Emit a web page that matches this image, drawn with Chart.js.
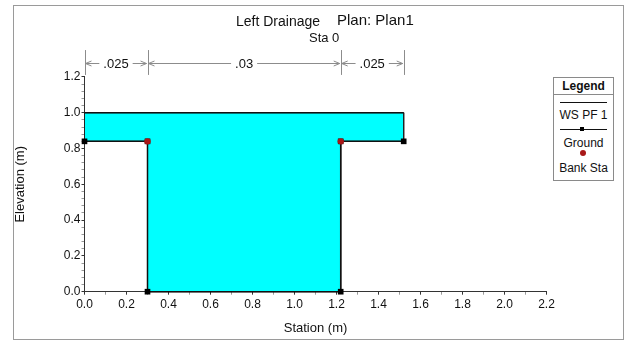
<!DOCTYPE html>
<html><head><meta charset="utf-8">
<script src="https://cdn.jsdelivr.net/npm/chart.js@4/dist/chart.umd.min.js"></script>
<style>
html,body{margin:0;padding:0;background:#fff;}
#wrap{position:relative;width:632px;height:343px;overflow:hidden;font-family:"Liberation Sans",Arial,sans-serif;color:#111;}
#frame{position:absolute;left:13px;top:5px;width:611px;height:335px;border:1px solid #9a9a9a;box-sizing:border-box;}
#c{position:absolute;left:0;top:0;}
.t{position:absolute;white-space:nowrap;line-height:16px;}
#legend{position:absolute;left:553px;top:77px;width:61px;height:104px;border:1px solid #8a8a8a;box-sizing:border-box;background:#fff;font-size:12px;}
#legend .row{position:absolute;left:0;width:100%;text-align:center;line-height:14px;white-space:nowrap;}
#legend .sep{position:absolute;left:0;width:100%;height:0;border-top:1px solid #8a8a8a;}
#legend .ln{position:absolute;left:6px;right:6px;height:0;border-top:1.5px solid #111;}
#legend .sq{position:absolute;width:4px;height:4px;background:#000;}
#legend .dot{position:absolute;width:6px;height:6px;border-radius:50%;}
</style></head>
<body>
<div id="wrap">
  <div id="frame"></div>
  <canvas id="c" width="632" height="343"></canvas>
  <span class="t" id="t1" style="left:236px;top:13px;font-size:14px;">Left Drainage</span>
  <span class="t" id="t2" style="left:337px;top:12px;font-size:15px;">Plan: Plan1</span>
  <span class="t" id="t3" style="left:309px;top:30px;font-size:13px;">Sta 0</span>
  <div id="legend"></div>
</div>
<script>
// ---- data ----
const groundStation = [0, 0.3, 0.3, 1.22, 1.22, 1.52];
const groundElev    = [0.84, 0.84, 0, 0, 0.84, 0.84];
const bankStation   = [0.3, 1.22];
const bankElev      = [0.84, 0.84];
const wsStation     = [0, 1.52];
const wsElev        = [1.0, 1.0];
const nBreaks       = [0, 0.3, 1.22, 1.52];
const nValues       = ['.025', '.03', '.025'];
const xTickLabels   = ['0.0','0.2','0.4','0.6','0.8','1.0','1.2','1.4','1.6','1.8','2.0','2.2'];
const yTickLabels   = ['0.0','0.2','0.4','0.6','0.8','1.0','1.2'];
const seriesNames   = ['WS PF 1', 'Ground', 'Bank Sta'];

// ---- derived structures ----
const pts = (xs, ys) => xs.map((v, i) => ({x: v, y: ys[i]}));
const groundPts = pts(groundStation, groundElev);
const wsPts = pts(wsStation, wsElev);
const waterPoly = wsPts.concat(groundPts.slice().reverse(), [wsPts[0]]);
const xMajor = xTickLabels.map(Number), yMajor = yTickLabels.map(Number);
function withMinor(major, n) {
  const out = [];
  for (let i = 0; i < major.length; i++) {
    out.push({value: major[i], major: true});
    if (i < major.length - 1) for (let k = 1; k < n; k++)
      out.push({value: major[i] + (major[i+1] - major[i]) * k / n, major: false});
  }
  return out;
}
const isMajor = (ticks, v) => ticks.some(t => Math.abs(t - v) < 1e-9);

const CYAN = '#00FFFF', BANK = '#A81818';

const nPlugin = {
  id: 'manningN',
  afterDraw(chart) {
    const {ctx, scales: {x, y}} = chart;
    const yT = y.getPixelForValue(1.35), yB = y.getPixelForValue(1.211), yA = Math.round(y.getPixelForValue(1.275)) + 0.5;
    ctx.save();
    ctx.strokeStyle = '#8c8c8c';
    ctx.lineWidth = 1;
    nBreaks.forEach(b => {
      const px = Math.round(x.getPixelForValue(b)) + 0.5;
      ctx.beginPath(); ctx.moveTo(px, yT); ctx.lineTo(px, yB); ctx.stroke();
    });
    ctx.font = '13px "Liberation Sans", Arial, sans-serif';
    ctx.textAlign = 'center'; ctx.textBaseline = 'middle';
    nValues.forEach((lab, i) => {
      const a = x.getPixelForValue(nBreaks[i]) + 1, b = x.getPixelForValue(nBreaks[i+1]) - 1;
      const c = (a + b) / 2, w = ctx.measureText(lab).width;
      ctx.strokeStyle = '#8c8c8c';
      ctx.beginPath();
      ctx.moveTo(a, yA); ctx.lineTo(c - w/2 - 4, yA);
      ctx.moveTo(c + w/2 + 4, yA); ctx.lineTo(b, yA);
      ctx.moveTo(a + 6, yA - 2.5); ctx.lineTo(a, yA); ctx.lineTo(a + 6, yA + 2.5);
      ctx.moveTo(b - 6, yA - 2.5); ctx.lineTo(b, yA); ctx.lineTo(b - 6, yA + 2.5);
      ctx.stroke();
      ctx.fillStyle = '#111';
      ctx.fillText(lab, c, yA + 1);
    });
    ctx.restore();
  }
};

const tickFont = {family: '"Liberation Sans", Arial, sans-serif', size: 12};
const chart = new Chart(document.getElementById('c'), {
  type: 'line',
  data: {
    datasets: [
      {label: seriesNames[2], data: pts(bankStation, bankElev), showLine: false,
       pointStyle: 'circle', pointRadius: 3.2, pointBackgroundColor: BANK, pointBorderColor: BANK, pointBorderWidth: 0, clip: false},
      {label: seriesNames[1], data: groundPts, borderColor: '#111', borderWidth: 1.5, tension: 0,
       pointStyle: 'rect', pointRadius: 4, pointBackgroundColor: '#000', pointBorderColor: '#000', pointBorderWidth: 0, clip: false, fill: false},
      {label: seriesNames[0], data: wsPts, borderColor: '#111', borderWidth: 1.5, tension: 0, pointRadius: 0, fill: false, clip: false},
      {label: 'water', data: waterPoly, borderColor: '#222', borderWidth: 1, tension: 0, pointRadius: 0,
       backgroundColor: CYAN, fill: 'shape', clip: false}
    ]
  },
  options: {
    responsive: false, animation: false,
    events: [],
    layout: {padding: {left: 0, right: 85.5, top: 76.9, bottom: 0}},
    plugins: {legend: {display: false}, title: {display: false}, tooltip: {enabled: false}},
    scales: {
      x: {
        type: 'linear', min: 0, max: 2.2,
        afterBuildTicks: s => { s.ticks = withMinor(xMajor, 2); },
        afterFit: s => { s.height = 343 - 291.7; },
        ticks: {autoSkip: false, maxRotation: 0, padding: 3, color: '#111', font: tickFont,
          callback: v => isMajor(xMajor, v) ? xTickLabels[xMajor.findIndex(t => Math.abs(t - v) < 1e-9)] : ''},
        grid: {drawOnChartArea: false, drawTicks: true, tickLength: 3,
          tickColor: c => (c.tick && isMajor(xMajor, c.tick.value)) ? '#333' : '#999'},
        border: {display: true, color: '#333', width: 1},
        title: {display: true, text: 'Station (m)', color: '#111', font: {family: tickFont.family, size: 13}, padding: {top: 0, bottom: 7}}
      },
      y: {
        type: 'linear', min: 0, max: 1.2,
        afterBuildTicks: s => { s.ticks = withMinor(yMajor, 5); },
        afterFit: s => { s.width = 84.5; },
        ticks: {autoSkip: false, padding: 1, color: '#111', font: tickFont,
          callback: v => isMajor(yMajor, v) ? yTickLabels[yMajor.findIndex(t => Math.abs(t - v) < 1e-9)] : ''},
        grid: {drawOnChartArea: false, drawTicks: true, tickLength: 3,
          tickColor: c => (c.tick && isMajor(yMajor, c.tick.value)) ? '#333' : '#999'},
        border: {display: true, color: '#333', width: 1},
        title: {display: true, text: 'Elevation (m)', color: '#111', font: {family: tickFont.family, size: 13}, padding: {top: 13, bottom: 0}}
      }
    }
  },
  plugins: [nPlugin]
});

// ---- legend built from the chart's datasets ----
(function buildLegend() {
  const L = document.getElementById('legend');
  const ds = chart.data.datasets;
  const ws = ds.find(d => d.label === seriesNames[0]);
  const gr = ds.find(d => d.label === seriesNames[1]);
  const bk = ds.find(d => d.label === seriesNames[2]);
  const add = (cls, style, text) => { const e = document.createElement('div'); e.className = cls; e.setAttribute('style', style); if (text) e.textContent = text; L.appendChild(e); return e; };
  add('row', 'top:1px;font-weight:bold;', 'Legend');
  add('sep', 'top:16px;');
  add('ln', 'top:24px;border-top-color:' + ws.borderColor + ';');
  add('row', 'top:30px;', ws.label);
  add('ln', 'top:51px;border-top-color:' + gr.borderColor + ';');
  add('sq', 'left:26px;top:49px;');
  add('row', 'top:58px;', gr.label);
  add('dot', 'left:26px;top:72px;background:' + bk.pointBackgroundColor + ';');
  add('row', 'top:83px;', bk.label);
})();
</script>
</body></html>
